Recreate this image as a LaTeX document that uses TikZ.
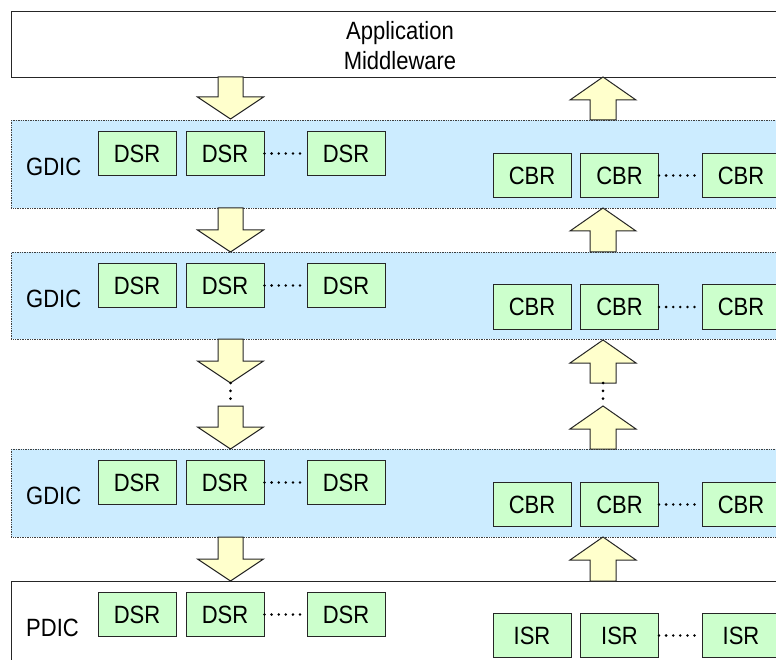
\documentclass[tikz,border=0pt]{standalone}
\usepackage{fontspec}
\setmainfont{Liberation Sans}[FakeStretch=0.88]
\definecolor{bandblue}{RGB}{204,236,255}
\definecolor{boxgreen}{RGB}{204,255,204}
\definecolor{arrowyellow}{RGB}{255,255,204}

% block arrows: x of the axis, y of the flat end, y of the tip
\newcommand\blkdown[3]{%
  \filldraw[blockarrow] (#1-12.5,#2) -- (#1+12.5,#2) -- (#1+12.5,#3-22)
    -- (#1+33,#3-22) -- (#1,#3) -- (#1-33,#3-22) -- (#1-12.5,#3-22) -- cycle;}
\newcommand\blkup[3]{%
  \filldraw[blockarrow] (#1-13,#2) -- (#1+13,#2) -- (#1+13,#3+23)
    -- (#1+33,#3+23) -- (#1,#3) -- (#1-33,#3+23) -- (#1-13,#3+23) -- cycle;}

\tikzset{
  blockarrow/.style={fill=arrowyellow, draw=black!85, line width=1pt, line join=miter},
  band/.style={rectangle, anchor=north west, fill=bandblue, draw=black!75,
    line width=0.9pt, dash pattern=on 0.9pt off 0.8pt,
    minimum width=779pt, minimum height=88pt, inner sep=0pt},
  plainband/.style={rectangle, anchor=north west, fill=white, draw=black!85,
    line width=1pt, inner sep=0pt},
  regbox/.style={rectangle, fill=boxgreen, draw=black!85, line width=1pt,
    minimum width=78pt, minimum height=44pt, inner sep=0pt,
    font=\fontsize{25}{28}\selectfont},
  layerlabel/.style={anchor=west, inner sep=0pt, font=\fontsize{25}{28}\selectfont},
  gap/.style={line width=2.8pt, line cap=round, dash pattern=on 0pt off 7.1pt},
  vgap/.style={line width=3pt, line cap=round, dash pattern=on 0pt off 7.8pt},
}

\begin{document}
\begin{tikzpicture}[x=1pt, y=-1pt]
\useasboundingbox (0,0) rectangle (776,660);
\fill[white] (0,0) rectangle (776,660);

% application / middleware layer
\node[plainband, minimum width=779pt, minimum height=66pt] (app) at (11,11) {};
\node[align=center, inner sep=0pt, font=\fontsize{25}{30}\selectfont] (apptext) at (400,46) {Application\\Middleware};

% three GDIC layers and the PDIC layer
\node[band] (g1) at (11,120) {};
\node[band, minimum height=87pt] (g2) at (11,252) {};
\node[band] (g3) at (11,449) {};
\node[plainband, minimum width=779pt, minimum height=95pt] (pd) at (11,581) {};

\node[layerlabel] (g1l) at (26,167) {GDIC};
\node[layerlabel] (g2l) at (26,299) {GDIC};
\node[layerlabel] (g3l) at (26,496) {GDIC};
\node[layerlabel] (pdl) at (26,628) {PDIC};

% DSR rows
\foreach \r/\y in {1/153.5, 2/285.5, 3/482.5, 4/614.5}{
  \node[regbox] (d\r a) at (137,\y) {DSR};
  \node[regbox] (d\r b) at (225,\y) {DSR};
  \node[regbox] (d\r c) at (346,\y) {DSR};
  \draw[gap] (d\r b.east) -- (d\r c.west);
}
% CBR rows
\foreach \r/\y in {1/175.5, 2/307, 3/504.5}{
  \node[regbox] (c\r a) at (532,\y) {CBR};
  \node[regbox] (c\r b) at (619.5,\y) {CBR};
  \node[regbox] (c\r c) at (741,\y) {CBR};
  \draw[gap] (c\r b.east) -- (c\r c.west);
}
% ISR row
\node[regbox] (i1) at (532,635.5) {ISR};
\node[regbox] (i2) at (619.5,635.5) {ISR};
\node[regbox] (i3) at (741,635.5) {ISR};
\draw[gap] (i2.east) -- (i3.west);

% downward flow
\blkdown{230.5}{77}{119}
\blkdown{230.5}{208}{252}
\blkdown{230.5}{339}{383}
\blkdown{230.5}{406}{449}
\blkdown{230.5}{537}{581}
% upward flow
\blkup{603}{120}{77}
\blkup{603}{252}{208}
\blkup{603}{383}{340}
\blkup{603}{449}{406}
\blkup{603}{581}{537}

% elided layers
\coordinate (dtop) at (230.5,383);
\coordinate (dbot) at (230.5,406);
\coordinate (utop) at (603,383);
\coordinate (ubot) at (603,406);
\draw[vgap] (dtop) -- (dbot);
\draw[vgap] (utop) -- (ubot);
\end{tikzpicture}
\end{document}
